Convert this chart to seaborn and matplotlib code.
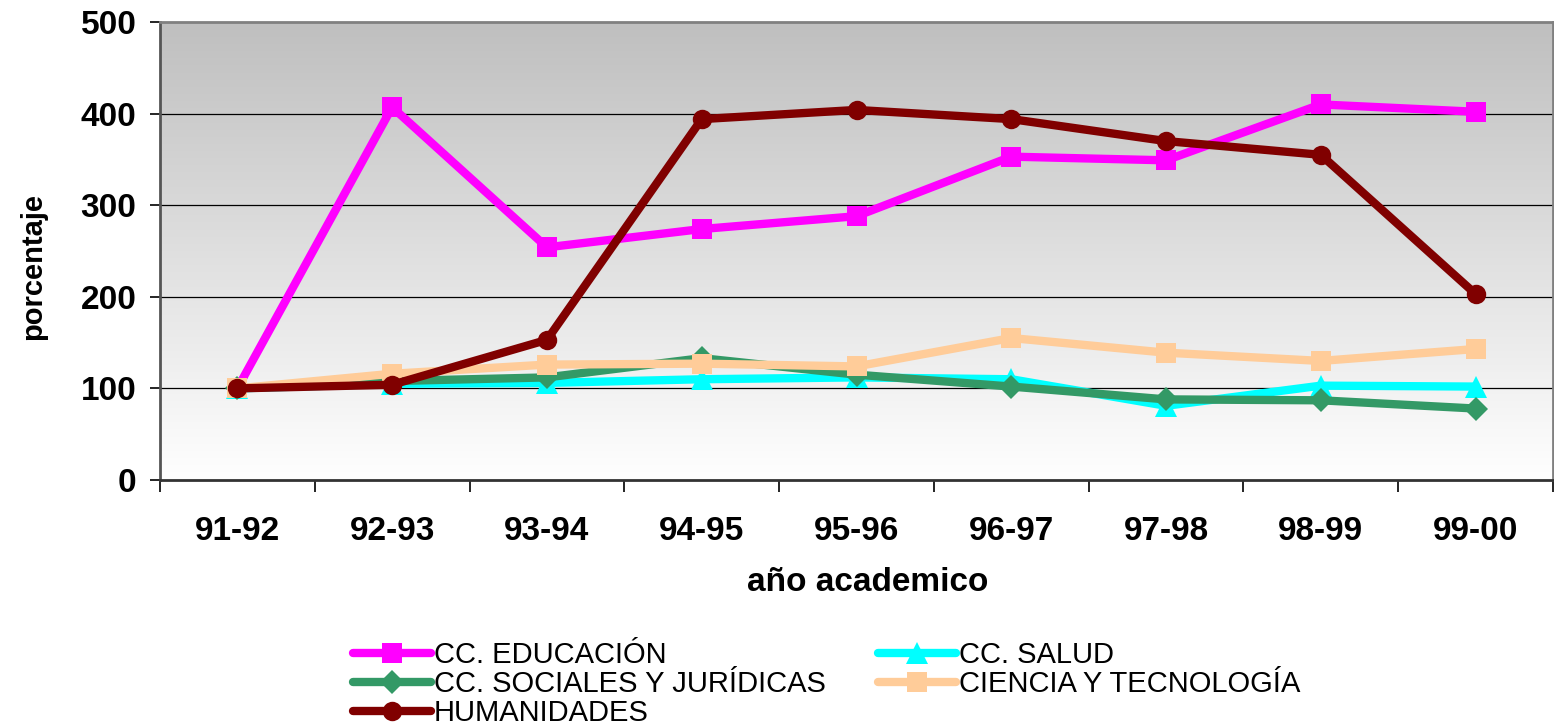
import numpy as np
import pandas as pd
import matplotlib
matplotlib.use('agg')
import matplotlib.pyplot as plt
import seaborn as sns

# datos
cursos = ['91-92', '92-93', '93-94', '94-95', '95-96', '96-97', '97-98', '98-99', '99-00']
educacion = [100, 407, 254, 274, 288, 353, 349, 410, 402]
salud = [100, 105, 106, 110, 112, 110, 81, 103, 102]
sociales = [100, 108, 112, 133, 115, 102, 88, 87, 78]
ciencia = [100, 116, 126, 127, 124, 155, 139, 130, 143]
humanidades = [100, 104, 153, 394, 404, 394, 370, 355, 203]

series = [
    ('CC. EDUCACIÓN', educacion, '#ff00ff', 's', 15),
    ('CC. SALUD', salud, '#00ffff', '^', 16),
    ('CC. SOCIALES Y JURÍDICAS', sociales, '#339966', 'D', 12),
    ('CIENCIA Y TECNOLOGÍA', ciencia, '#ffcc99', 's', 15),
    ('HUMANIDADES', humanidades, '#800000', 'o', 14),
]

sns.set_theme(style='white')
plt.rcParams['font.family'] = ['Liberation Sans', 'DejaVu Sans']
plt.rcParams['text.color'] = 'black'
plt.rcParams['axes.labelcolor'] = 'black'
plt.rcParams['xtick.color'] = 'black'
plt.rcParams['ytick.color'] = 'black'

fig = plt.figure(figsize=(15.54, 7.27), dpi=100)
ax = fig.add_axes([160 / 1554, 1 - 480 / 727, (1554 - 161) / 1554, (480 - 22) / 727])

# fondo degradado
grad = np.linspace(0, 1, 256).reshape(-1, 1)
cmap = matplotlib.colors.LinearSegmentedColormap.from_list('g', ['#ffffff', '#bfbfbf'])
ax.imshow(grad, extent=[-0.5, 8.5, 0, 500], origin='lower', aspect='auto', cmap=cmap, zorder=0)

for y in [100, 200, 300, 400]:
    ax.axhline(y, color='black', lw=0.9, zorder=1)

x = np.arange(len(cursos))
for nombre, vals, color, mk, ms in series:
    df = pd.DataFrame({'curso': x, 'valor': vals})
    sns.lineplot(data=df, x='curso', y='valor', ax=ax, color=color, lw=6, marker=mk,
                 markersize=ms, markeredgecolor=color, markeredgewidth=0, label=nombre, zorder=3)

ax.set_xlim(-0.5, 8.5)
ax.set_ylim(0, 500)
ax.set_xticks(x)
ax.set_xticklabels(cursos, fontsize=24, fontweight='bold')
ax.set_xticks(np.arange(-0.5, 9, 1), minor=True)
ax.set_yticks([0, 100, 200, 300, 400, 500])
ax.set_yticklabels(['0', '100', '200', '300', '400', '500'], fontsize=24, fontweight='bold')
ax.tick_params(axis='x', which='major', length=0, pad=26)
ax.tick_params(axis='x', which='minor', length=8.5, width=1.2, color='black', direction='out', bottom=True)
ax.tick_params(axis='y', length=7, width=1.2, color='black', direction='out', left=True, pad=10)

for s in ax.spines.values():
    s.set_color('#808080')
    s.set_linewidth(2)
ax.spines['bottom'].set_color('#333333')
ax.spines['left'].set_color('#555555')

ax.set_xlabel('año academico', fontsize=24, fontweight='bold')
ax.set_ylabel('porcentaje', fontsize=21, fontweight='bold')
ax.xaxis.set_label_coords(0.508, -0.191)
ax.yaxis.set_label_coords(-0.081, 0.467)

handles, labels = ax.get_legend_handles_labels()
idx = [0, 2, 4, 1, 3]
ax.legend([handles[i] for i in idx], [labels[i] for i in idx], ncol=2,
          loc='upper left', bbox_to_anchor=(353 / 1554, 1 - 641 / 727), bbox_transform=fig.transFigure,
          frameon=False, prop={'size': 21},
          handlelength=2.67, handletextpad=0.1, columnspacing=1.8, labelspacing=0.03,
          borderaxespad=0, borderpad=0)

fig.savefig('out.png', dpi=100)
